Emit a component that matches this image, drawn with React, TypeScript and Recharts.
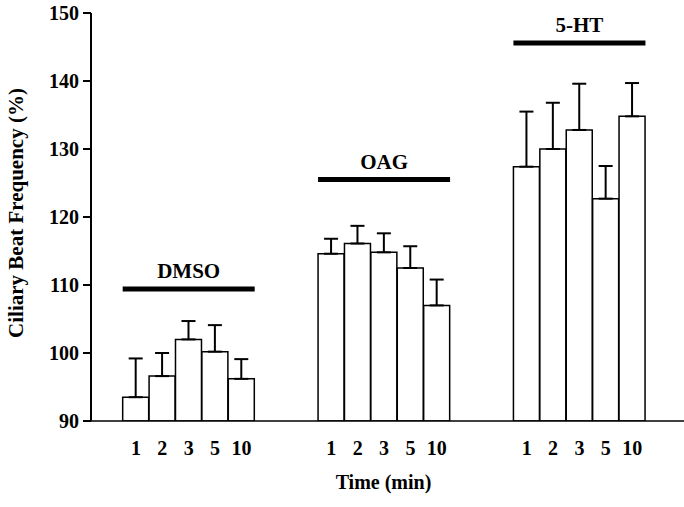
import { ComposedChart, Bar, ErrorBar, XAxis, YAxis, ReferenceLine } from "recharts";

const timeLabels = ["1", "2", "3", "5", "10"];
const groupNames = ["DMSO", "OAG", "5-HT"];
const dmsoMean = [93.5, 96.6, 102.0, 100.2, 96.2];
const dmsoErr = [5.7, 3.4, 2.7, 3.9, 2.9];
const oagMean = [114.6, 116.1, 114.8, 112.5, 107.0];
const oagErr = [2.2, 2.6, 2.8, 3.2, 3.8];
const htMean = [127.4, 130.0, 132.8, 122.7, 134.8];
const htErr = [8.1, 6.8, 6.8, 4.8, 4.9];
const groupLineLevel = [109.4, 125.5, 145.6];
const yTicks = [90, 100, 110, 120, 130, 140, 150];

// spacing between the groups, in bar widths
const GROUP_STRIDE = 7.4;

const means = [dmsoMean, oagMean, htMean];
const errs = [dmsoErr, oagErr, htErr];

const chartData = groupNames.flatMap((g, gi) =>
  timeLabels.map((t, i) => ({
    pos: gi * GROUP_STRIDE + i,
    time: t,
    group: g,
    mean: means[gi][i],
    err: [0, errs[gi][i]],
  }))
);

const font = "Times New Roman, Liberation Serif, Tinos, serif";
const textStyle = { fontFamily: font, fontWeight: 700 };

const YLabel = ({ viewBox }: any) => {
  const cy = viewBox.y + viewBox.height / 2 - 4;
  return (
    <text
      x={16}
      y={cy}
      transform={`rotate(-90, 16, ${cy})`}
      textAnchor="middle"
      dominantBaseline="central"
      style={textStyle}
      fontSize={21}
      fill="#000"
    >
      Ciliary Beat Frequency (%)
    </text>
  );
};

export default function App() {
  return (
    <div
      style={{
        position: "absolute",
        left: 0,
        top: 0,
        background: "#fff",
        fontFamily: font,
        fontWeight: 700,
      }}
    >
      <ComposedChart
        width={684}
        height={507}
        data={chartData}
        margin={{ top: 13, right: 0, bottom: 0, left: 0 }}
        style={{ fontFamily: font }}
      >
        <XAxis
          dataKey="pos"
          type="number"
          domain={[-1.7, 20.76]}
          ticks={chartData.map((d) => d.pos)}
          interval={0}
          tickFormatter={(v: number) => chartData.find((d) => d.pos === v)?.time ?? ""}
          tickLine={false}
          tickMargin={14}
          axisLine={{ stroke: "#000", strokeWidth: 1.5 }}
          tick={{ fill: "#000", style: textStyle, fontSize: 20 }}
          height={86}
          label={{
            value: "Time (min)",
            position: "insideBottom",
            offset: 18,
            dx: -4,
            fill: "#000",
            style: textStyle,
            fontSize: 20,
          }}
        />
        <YAxis
          type="number"
          domain={[90, 150]}
          ticks={yTicks}
          width={91}
          allowDataOverflow
          tickSize={8}
          tickMargin={4}
          axisLine={{ stroke: "#000", strokeWidth: 2 }}
          tickLine={{ stroke: "#000", strokeWidth: 2 }}
          tick={{ fill: "#000", style: textStyle, fontSize: 20 }}
          label={<YLabel />}
        />
        <Bar
          dataKey="mean"
          fill="#fff"
          stroke="#000"
          strokeWidth={1.5}
          barSize={26}
          isAnimationActive={false}
        >
          <ErrorBar dataKey="err" direction="y" width={7} stroke="#000" strokeWidth={2} />
        </Bar>
        {groupNames.map((g, gi) => (
          <ReferenceLine
            key={g}
            segment={[
              { x: gi * GROUP_STRIDE - 0.5, y: groupLineLevel[gi] },
              { x: gi * GROUP_STRIDE + timeLabels.length - 0.5, y: groupLineLevel[gi] },
            ]}
            stroke="#000"
            strokeWidth={5}
            ifOverflow="visible"
            label={{
              value: g,
              position: "top",
              offset: 11,
              fill: "#000",
              style: textStyle,
              fontSize: 21,
            }}
          />
        ))}
      </ComposedChart>
    </div>
  );
}
